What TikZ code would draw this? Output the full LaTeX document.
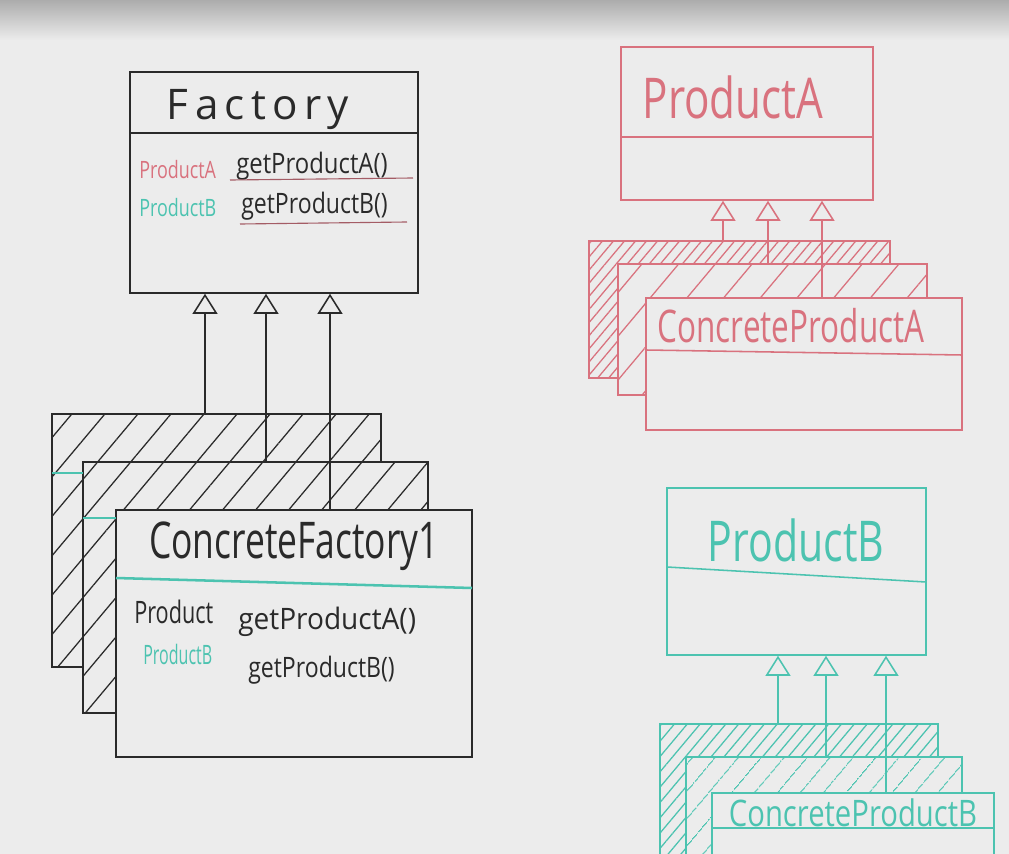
\documentclass[tikz,border=0pt]{standalone}
\usepackage{fontspec}
\usepackage{graphicx}
\setmainfont{Open Sans}
\usetikzlibrary{arrows.meta,patterns.meta,fit}
\definecolor{board}{HTML}{ECECEC}
\definecolor{ink}{HTML}{2A2A2A}
\definecolor{mred}{HTML}{D9727E}
\definecolor{mteal}{HTML}{4CC3B0}
\newcommand{\hw}[3]{\scalebox{#1}[1]{\fontsize{#2}{#2}\selectfont #3}}
\tikzset{
  box/.style={draw, inner sep=0pt, line width=1.1pt, rectangle},
  hatch/.style 2 args={preaction={fill=board}, pattern={Lines[angle=50,distance=#2,line width=0.9pt]}, pattern color=#1},
  inh/.style={line width=1.1pt, -{Triangle[width=0.62cm,length=0.5cm,fill=board]}},
  lbl/.style={inner sep=0pt},
}
\begin{document}
\begin{tikzpicture}[x=0.025cm,y=-0.025cm]
\useasboundingbox (0,0) rectangle (1009,854);
\fill[board] (0,0) rectangle (1009,854);
\shade[top color=gray!65, bottom color=board] (0,0) rectangle (1009,40);

% ---------- Factory ----------
\node[box, draw=ink, fit={(130,72)(418,293)}] (factory) {};
\draw[ink, line width=1.1pt] (130,133) -- (418,133);
\node[lbl, text=ink] (ftitle) at (258,110) {\hw{1}{30pt}{\addfontfeature{LetterSpace=15}Factory}};
\node[lbl, anchor=west, text=mred] (fm1l) at (139,170) {\hw{0.75}{17pt}{ProductA}};
\node[lbl, anchor=west, text=ink] (fm1r) at (236,166) {\hw{0.85}{20pt}{getProductA()}};
\node[lbl, anchor=west, text=mteal] (fm2l) at (139,208) {\hw{0.75}{17pt}{ProductB}};
\node[lbl, anchor=west, text=ink] (fm2r) at (241,206) {\hw{0.82}{20pt}{getProductB()}};
\draw[mred!70!ink, line width=0.8pt] (230,180) -- (413,178);
\draw[mred!70!ink, line width=0.8pt] (240,224) -- (407,222);

% ---------- Concrete factories ----------
\node[box, draw=ink, hatch={ink}{18pt}, fit={(52,414)(381,667)}] (cfback) {};
\node[box, draw=ink, hatch={ink}{18pt}, fit={(83,462)(428,713)}] (cfmid) {};
\node[box, draw=ink, fill=board, fit={(116,510)(472,757)}] (cf) {};
\draw[mteal, line width=1.5pt] (52,473) -- (83,473);
\draw[mteal, line width=1.5pt] (83,518) -- (116,518);
\draw[mteal, line width=1.8pt] (116,578) -- (472,588);
\node[lbl, text=ink] (cftitle) at (294,546) {\hw{0.7}{36pt}{ConcreteFactory1}};
\node[lbl, anchor=west, text=ink] (cfm1l) at (134,612) {\hw{0.7}{22pt}{Product}};
\node[lbl, anchor=west, text=ink] (cfm1r) at (238,622) {\hw{0.95}{21pt}{getProductA()}};
\node[lbl, anchor=west, text=mteal] (cfm2l) at (143,654) {\hw{0.6}{19pt}{ProductB}};
\node[lbl, anchor=west, text=ink] (cfm2r) at (248,670) {\hw{0.82}{20pt}{getProductB()}};

\coordinate (fx1) at (205,0);
\coordinate (fx2) at (266,0);
\coordinate (fx3) at (330,0);
\draw[inh, ink] (cfback.north -| fx1) -- (factory.south -| fx1);
\draw[inh, ink] (cfmid.north -| fx2) -- (factory.south -| fx2);
\draw[inh, ink] (cf.north -| fx3) -- (factory.south -| fx3);

% ---------- ProductA ----------
\node[box, draw=mred, fit={(621,47)(873,200)}] (pa) {};
\draw[mred, line width=1.1pt] (621,137) -- (873,137);
\node[lbl, text=mred] (patitle) at (733,97) {\hw{0.75}{40pt}{ProductA}};
\node[box, draw=mred, hatch={mred}{6pt}, fit={(589,241)(890,378)}] (cpaback) {};
\node[box, draw=mred, hatch={mred}{20pt}, fit={(618,264)(927,395)}] (cpamid) {};
\node[box, draw=mred, fill=board, fit={(646,298)(962,430)}] (cpa) {};
\draw[mred, line width=1.1pt] (646,350) -- (962,355);
\node[lbl, text=mred] (cpatitle) at (791,326) {\hw{0.7}{32pt}{ConcreteProductA}};
\coordinate (ax1) at (723,0);
\coordinate (ax2) at (768,0);
\coordinate (ax3) at (822,0);
\draw[inh, mred] (cpaback.north -| ax1) -- (pa.south -| ax1);
\draw[inh, mred] (cpamid.north -| ax2) -- (pa.south -| ax2);
\draw[inh, mred] (cpa.north -| ax3) -- (pa.south -| ax3);

% ---------- ProductB ----------
\node[box, draw=mteal, fit={(667,488)(926,655)}] (pb) {};
\draw[mteal, line width=1.1pt] (667,567) -- (926,582);
\node[lbl, text=mteal] (pbtitle) at (796,540) {\hw{0.73}{40pt}{ProductB}};
\node[box, draw=mteal, hatch={mteal}{7pt}, fit={(660,724)(938,880)}] (cpbback) {};
\node[box, draw=mteal, hatch={mteal}{13pt}, fit={(686,757)(962,880)}] (cpbmid) {};
\node[box, draw=mteal, fill=board, fit={(712,793)(994,880)}] (cpb) {};
\draw[mteal, line width=1.1pt] (712,828) -- (994,828);
\node[lbl, text=mteal] (cpbtitle) at (853,813) {\hw{0.8}{26pt}{ConcreteProductB}};
\coordinate (bx1) at (778,0);
\coordinate (bx2) at (826,0);
\coordinate (bx3) at (886,0);
\draw[inh, mteal] (cpbback.north -| bx1) -- (pb.south -| bx1);
\draw[inh, mteal] (cpbmid.north -| bx2) -- (pb.south -| bx2);
\draw[inh, mteal] (cpb.north -| bx3) -- (pb.south -| bx3);
\end{tikzpicture}
\end{document}
